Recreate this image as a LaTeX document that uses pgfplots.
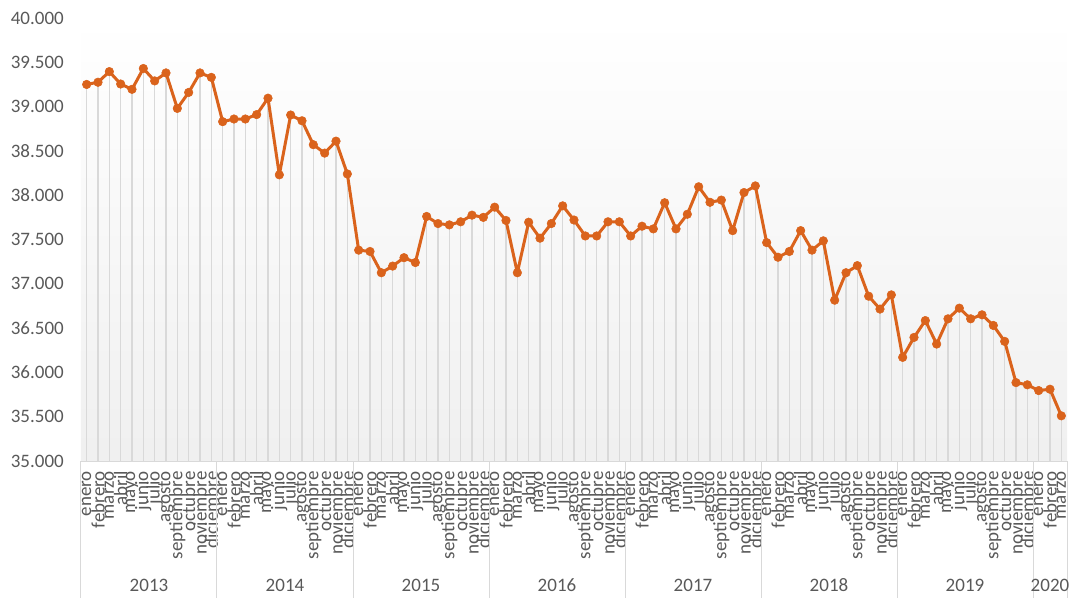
\documentclass[border=0pt]{standalone}
\usepackage{pgfplots}
\pgfplotsset{compat=1.18}
\usepackage{pgfplotstable}
\usepackage{fontspec}
\setmainfont{Carlito}
\definecolor{lineor}{RGB}{218,99,28}
\definecolor{txtgray}{RGB}{89,89,89}
\definecolor{dropgray}{RGB}{217,217,217}
\definecolor{sepgray}{RGB}{217,217,217}

\pgfplotstableread{
x y
0 39250
1 39275
2 39395
3 39255
4 39195
5 39430
6 39290
7 39380
8 38980
9 39160
10 39380
11 39330
12 38830
13 38860
14 38860
15 38910
16 39095
17 38230
18 38905
19 38840
20 38570
21 38475
22 38610
23 38240
24 37380
25 37365
26 37125
27 37200
28 37295
29 37240
30 37760
31 37680
32 37665
33 37700
34 37775
35 37750
36 37865
37 37715
38 37125
39 37695
40 37515
41 37680
42 37880
43 37720
44 37540
45 37540
46 37700
47 37700
48 37540
49 37650
50 37620
51 37915
52 37620
53 37785
54 38095
55 37920
56 37945
57 37600
58 38030
59 38105
60 37465
61 37300
62 37365
63 37600
64 37380
65 37485
66 36815
67 37125
68 37205
69 36860
70 36715
71 36875
72 36170
73 36395
74 36585
75 36320
76 36605
77 36725
78 36605
79 36650
80 36530
81 36350
82 35885
83 35860
84 35795
85 35810
86 35510
}\datatable

\newcommand{\mths}{enero,febrero,marzo,abril,mayo,junio,julio,agosto,septiembre,octubre,noviembre,diciembre}

\begin{document}
\begin{tikzpicture}
\useasboundingbox (-81pt,-137pt) rectangle (993pt,461pt);
\begin{axis}[
  at={(0,0)}, anchor=south west,
  scale only axis, width=986pt, height=443pt,
  xmin=-0.5, xmax=86.5, ymin=35000, ymax=40000,
  axis line style={draw=none},
  axis background/.style={shade, top color=white, bottom color=black!6},
  tick style={draw=none},
  scaled y ticks=false,
  /pgf/number format/assume math mode=true,
  /pgf/number format/fixed,
  /pgf/number format/precision=0,
  /pgf/number format/1000 sep={.},
  ytick={35000,35500,36000,36500,37000,37500,38000,38500,39000,39500,40000},
  yticklabel style={anchor=east, inner sep=0pt, xshift=-17pt, font=\fontsize{19}{21}\selectfont, text=txtgray},
  xtick={0,...,86},
  xticklabels/.expanded={\mths,\mths,\mths,\mths,\mths,\mths,\mths,enero,febrero,marzo},
  xticklabel shift=10pt,
  xticklabel style={inner sep=0pt, rotate=90, anchor=east, font=\fontsize{19}{20}\selectfont, text=txtgray},
  after end axis/.code={
    \draw[sepgray, line width=1pt] (axis cs:-0.5,35000) -- (axis cs:86.5,35000);
    \pgfplotsinvokeforeach{-0.5,11.5,23.5,35.5,47.5,59.5,71.5,83.5,86.5}{
      \draw[sepgray, line width=1pt] (axis cs:##1,35000) -- ++(0,-137pt);
    }
    \node[font=\fontsize{19}{21}\selectfont, text=txtgray] at (axis cs:5.5,35000) [yshift=-124pt] {2013};
    \node[font=\fontsize{19}{21}\selectfont, text=txtgray] at (axis cs:17.5,35000) [yshift=-124pt] {2014};
    \node[font=\fontsize{19}{21}\selectfont, text=txtgray] at (axis cs:29.5,35000) [yshift=-124pt] {2015};
    \node[font=\fontsize{19}{21}\selectfont, text=txtgray] at (axis cs:41.5,35000) [yshift=-124pt] {2016};
    \node[font=\fontsize{19}{21}\selectfont, text=txtgray] at (axis cs:53.5,35000) [yshift=-124pt] {2017};
    \node[font=\fontsize{19}{21}\selectfont, text=txtgray] at (axis cs:65.5,35000) [yshift=-124pt] {2018};
    \node[font=\fontsize{19}{21}\selectfont, text=txtgray] at (axis cs:77.5,35000) [yshift=-124pt] {2019};
    \node[font=\fontsize{19}{21}\selectfont, text=txtgray] at (axis cs:85,35000) [yshift=-124pt] {2020};
  },
]
\addplot[ycomb, draw=dropgray, line width=1.5pt, mark=none] table[x=x,y=y] {\datatable};
\addplot[lineor, line width=3pt, line join=round, mark=*, mark size=4.3pt,
  mark options={fill=lineor, draw=lineor, line width=0.5pt}] table[x=x,y=y] {\datatable};
\end{axis}
\end{tikzpicture}
\end{document}
